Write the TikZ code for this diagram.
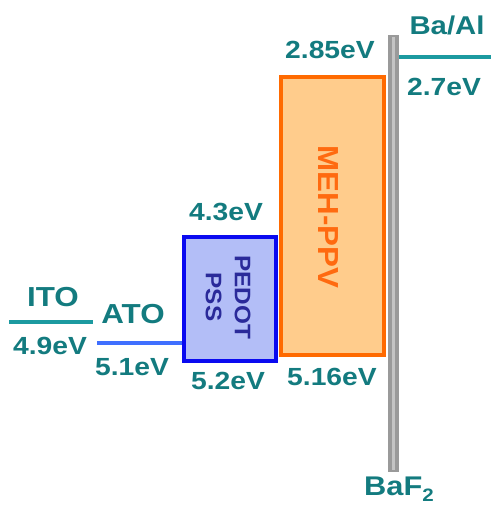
\documentclass[tikz,border=0pt]{standalone}
\usepackage{fontspec}
\setmainfont{DejaVu Sans}
\newfontfamily\labfont[FakeStretch=1.14]{Liberation Sans}
\newfontfamily\boxfont[FakeStretch=1.08]{Liberation Sans}
\definecolor{tealtext}{HTML}{137B7F}
\definecolor{tealline}{HTML}{1C9AA0}
\definecolor{atoblue}{HTML}{3F6FFF}
\definecolor{pedotedge}{HTML}{0A0AF0}
\definecolor{pedotfill}{HTML}{B3BEF7}
\definecolor{pedottext}{HTML}{2A2A9A}
\definecolor{mehedge}{HTML}{FF6A00}
\definecolor{mehfill}{HTML}{FFCC8C}
\definecolor{mehtext}{HTML}{FF6A10}
\definecolor{bargray}{HTML}{9A9A9A}
\definecolor{barlight}{HTML}{C4C4C4}
\begin{document}
\begin{tikzpicture}[x=1pt,y=1pt,
  val/.style={text=tealtext,font=\labfont\bfseries\fontsize{24.8}{28}\selectfont,inner sep=0pt},
  matlbl/.style={text=tealtext,font=\labfont\bfseries\fontsize{27.5}{30}\selectfont,inner sep=0pt},
  level/.style={line width=4pt},
  layer/.style={draw,line width=4pt,inner sep=0pt}]
\useasboundingbox (0,0) rectangle (491,509);
% gray substrate bar
\fill[bargray] (388,37) rectangle (399,474);
\fill[barlight] (392,39) rectangle (395,472);
% ITO
\coordinate (itoL) at (9,187);
\coordinate (itoR) at (93,187);
\draw[level,tealline] (itoL) -- (itoR);
\node[matlbl] (ito) at (53,212) {ITO};
\node[val] (ito49) at (50,163) {4.9eV};
% ATO
\coordinate (atoL) at (97,166);
\coordinate (atoR) at (182,166);
\draw[level,atoblue] (atoL) -- (atoR);
\node[matlbl] (ato) at (133,195) {ATO};
\node[val] (ato51) at (132,142) {5.1eV};
% PEDOT:PSS
\node[layer,draw=pedotedge,fill=pedotfill,minimum width=92pt,minimum height=124pt] (pedot) at (230,210) {};
\node[text=pedottext,font=\boxfont\bfseries\fontsize{22.5}{29}\selectfont,rotate=-90,align=center,inner sep=0pt] (pedott) at (228,212) {PEDOT\\PSS};
\node[val] (p43) at (226,297) {4.3eV};
\node[val] (p52) at (228,128) {5.2eV};
% MEH-PPV
\node[layer,draw=mehedge,fill=mehfill,minimum width=103pt,minimum height=278pt] (meh) at (332.5,293) {};
\node[text=mehtext,font=\boxfont\bfseries\fontsize{29}{32}\selectfont,rotate=-90,inner sep=0pt] (meht) at (328,292) {MEH-PPV};
\node[val] (m285) at (330,459) {2.85eV};
\node[val] (m516) at (332,132) {5.16eV};
% Ba/Al
\coordinate (baL) at (399,452);
\coordinate (baR) at (491,452);
\draw[level,tealline] (baL) -- (baR);
\node[matlbl,font=\labfont\bfseries\fontsize{25.7}{28}\selectfont] (baal) at (447,484) {Ba/Al};
\node[val] (b27) at (444,422) {2.7eV};
% BaF2
\node[matlbl,font=\labfont\bfseries\fontsize{27}{28}\selectfont,anchor=base] (baf) at (399,13) {BaF\raisebox{-6pt}{\fontsize{18}{18}\selectfont 2}};
\end{tikzpicture}
\end{document}
